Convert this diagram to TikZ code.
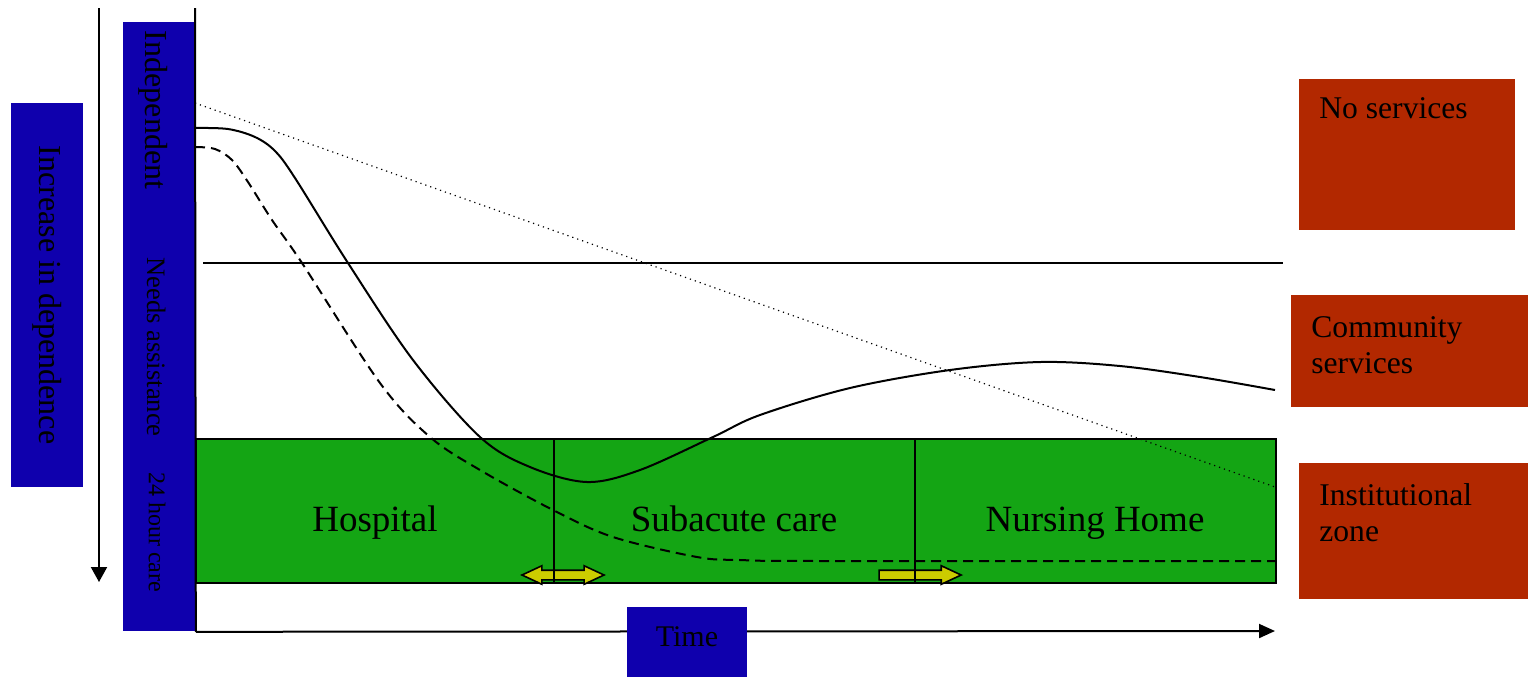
\documentclass[tikz,border=0pt]{standalone}
\usepackage{fontspec}
\setmainfont{Liberation Serif}
\usetikzlibrary{arrows.meta,shapes.arrows}

\definecolor{deepblue}{HTML}{0F00AD}
\definecolor{grass}{HTML}{14A514}
\definecolor{rust}{HTML}{B22800}
\definecolor{mustard}{HTML}{CCCC00}

\begin{document}
\begin{tikzpicture}[x=0.5pt,y=-0.5pt,
	bluebox/.style={fill=deepblue,draw=none,inner sep=0pt},
	redbox/.style={fill=rust,draw=none,inner sep=0pt,anchor=north west},
	ward/.style={anchor=base,font=\fontsize{18.5}{22}\selectfont},
	boxtext/.style={anchor=north west,align=left,inner sep=0pt,font=\fontsize{15.8}{18}\selectfont},
	shiftarrow/.style={fill=mustard,draw=black,line width=0.8pt,inner xsep=0pt,inner ysep=2pt,minimum height=41pt,minimum width=8.5pt}]
		
		\useasboundingbox (0,0) rectangle (1528,677);
		
		% Dependence label
		\node[bluebox,rotate=-90,minimum width=192pt,minimum height=36pt,font=\fontsize{16}{19}\selectfont] (dep) at (47,295) {Increase in dependence};
		
		% Dependence arrow
		\coordinate (deptop) at (99,8);
		\coordinate (depbot) at (99,582);
		\draw[line width=1pt,-{Triangle[length=7.5pt,width=8pt]}] (deptop) -- (depbot);
		
		% Level column
		\node[bluebox,minimum width=36pt,minimum height=304.5pt,anchor=north west] (levels) at (123,22) {};
		\node[rotate=-90,font=\fontsize{16}{19}\selectfont] (indep) at (153,110) {Independent};
		\node[rotate=-90,font=\fontsize{13.3}{16}\selectfont] (needs) at (157,347) {Needs assistance};
		\node[rotate=-90,font=\fontsize{12}{14}\selectfont] (care) at (157,532) {24 hour care};
		
		% Green care band
		\node[fill=grass,draw=black,line width=1pt,inner sep=0pt,minimum width=540pt,minimum height=72pt,anchor=north west] (band) at (195,438) {};
		
		% Transfer arrows
		\node[shiftarrow,double arrow,double arrow head extend=2.25pt,double arrow tip angle=50] (backforth) at (563,575) {};
		\node[shiftarrow,single arrow,single arrow head extend=2.25pt,single arrow tip angle=50] (onward) at (915,575) {};
		
		% Dividers
		\draw[line width=0.8pt] (554,438) -- (554,582);
		\draw[line width=0.8pt] (915,438) -- (915,582);
		
		% Ward labels
		\node[ward] (hosp) at (375,531) {Hospital};
		\node[ward] (subacute) at (734,531) {Subacute care};
		\node[ward] (nursing) at (1095,531) {Nursing Home};
		
		% Axes
		\coordinate (axistop) at (195,8);
		\coordinate (timeend) at (1275,631);
		\draw[line width=1pt] (axistop) -- (levels.south east);
		\draw[line width=1pt,-{Triangle[length=8pt,width=7pt]}] (levels.south east) -- (timeend);
		\node[bluebox,minimum width=60pt,minimum height=35pt,text depth=5pt,font=\fontsize{15}{18}\selectfont] (time) at (687,642) {Time};
		
		% Threshold line
		\draw[line width=1pt] (203,263) -- (1283,263);
		
		% Trend line
		\draw[dotted,line width=0.6pt] (195,103) -- (1275,487);
		
		% Patient curve
		\draw[line width=1pt] plot[smooth,tension=0.55] coordinates {(195,128) (228,129) (255,137) (275,151) (295,178) (348,263) (413,360) (480,437) (530,467) (587,482) (640,470) (713,437) (760,415) (850,388) (950,370) (1040,362) (1120,366) (1200,377) (1275,390)};
		
		% Without care curve
		\draw[line width=1pt,dash pattern=on 5pt off 3pt] plot[smooth,tension=0.55] coordinates {(195,147) (215,149) (232,160) (248,182) (272,220) (302,263) (380,383) (430,437) (480,470) (553,510) (613,537) (697,557) (740,560) (820,561) (1275,561)};
		
		% Service zones
		\node[redbox,minimum width=108pt,minimum height=75.5pt] (noserv) at (1299,79) {};
		\node[boxtext] (noservtext) at ([xshift=10pt,yshift=-9pt]noserv.north west) {No services};
		
		\node[redbox,minimum width=118.5pt,minimum height=56pt] (commserv) at (1291,295) {};
		\node[boxtext] (commservtext) at ([xshift=10pt,yshift=-10.5pt]commserv.north west) {Community\\services};
		
		\node[redbox,minimum width=114.5pt,minimum height=68pt] (instzone) at (1299,463) {};
		\node[boxtext] (instzonetext) at ([xshift=10pt,yshift=-10pt]instzone.north west) {Institutional\\zone};
	\end{tikzpicture}
\end{document}
